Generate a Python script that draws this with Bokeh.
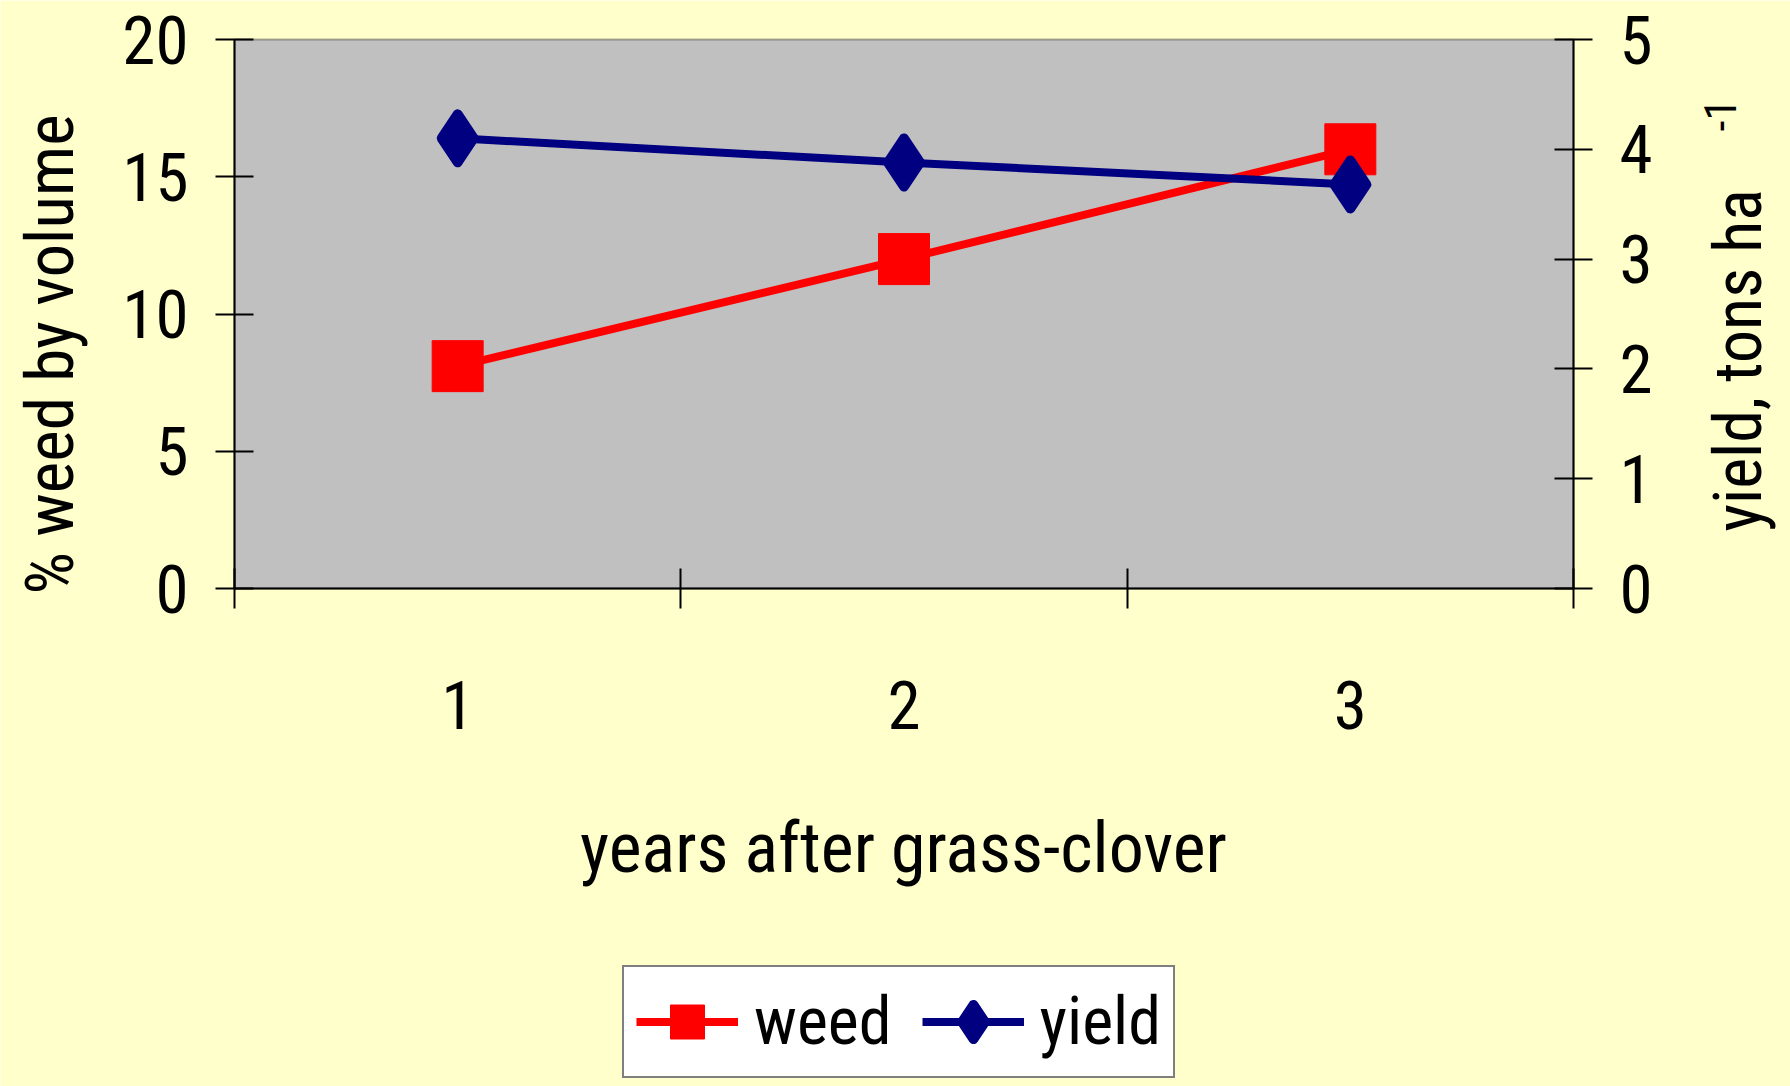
import math
from bokeh.plotting import figure
from bokeh.models import (Range1d, LinearAxis, FixedTicker, Legend, LegendItem,
                          Label, BoxAnnotation)
from bokeh.embed import file_html
from bokeh.resources import INLINE

# ---- data ----
years = [1, 2, 3]
year_labels = {1: "1", 2: "2", 3: "3"}
weed = [8.1, 12.0, 16.0]          # % weed by volume (left axis)
yield_t = [4.1, 3.88, 3.68]       # yield, tons/ha (right axis)
left_ticks = [0, 5, 10, 15, 20]
right_ticks = [0, 1, 2, 3, 4, 5]
cat_bounds = [0.5, 1.5, 2.5, 3.5]

# ---- layout (pixels) ----
W, H = 1790, 1086
PL, PR, PT, PB = 234, 1573, 39, 588          # plot-area edges on the page
FONT = "Roboto Condensed, Liberation Sans"
BG = "#FFFFCC"

x_lo, x_hi = cat_bounds[0], cat_bounds[-1]
y_lo, y_hi = left_ticks[0], left_ticks[-1]
y2_lo, y2_hi = right_ticks[0], right_ticks[-1]
kx = (PR - PL) / (x_hi - x_lo)
ky = (PB - PT) / (y_hi - y_lo)
ky2 = (PB - PT) / (y2_hi - y2_lo)
x_start = x_lo - PL / kx
y_start = y_lo - (H - PB) / ky
y2_start = y2_lo - (H - PB) / ky2


def px2x(px):
    return x_start + px / kx


def px2y(py):
    return y_start + (H - py) / ky


p = figure(width=W, height=H, output_backend="svg", toolbar_location=None,
           x_range=Range1d(x_start, x_hi + (W - PR) / kx),
           y_range=Range1d(y_start, y_hi + PT / ky),
           frame_width=W, frame_height=H, min_border=0,
           x_axis_location=None, y_axis_location=None)
p.background_fill_color = BG
p.border_fill_color = BG
p.outline_line_color = None
p.grid.visible = False
p.extra_y_ranges = {"y2": Range1d(y2_start, y2_hi + PT / ky2)}

# grey plot area with black border
p.add_layout(BoxAnnotation(left=x_lo, right=x_hi, bottom=y_lo, top=y_hi,
                           fill_color="#C0C0C0", fill_alpha=1,
                           line_color="black", line_width=2, level="underlay"))


def style(ax):
    ax.major_label_text_font = FONT
    ax.major_label_text_font_size = "67px"
    ax.major_label_text_color = "black"
    ax.axis_line_width = 2
    ax.major_tick_line_width = 2


# x axis: numbers at categories, tick marks at category boundaries
xa = LinearAxis(fixed_location=y_lo, bounds=(x_lo, x_hi),
                ticker=FixedTicker(ticks=years, minor_ticks=cat_bounds),
                major_label_overrides=year_labels)
style(xa)
xa.major_tick_line_color = None
xa.major_tick_in = 0
xa.major_tick_out = 0
xa.minor_tick_in = 20
xa.minor_tick_out = 20
xa.minor_tick_line_color = "black"
xa.minor_tick_line_width = 2
xa.major_label_standoff = 72
p.add_layout(xa, "below")

# left axis
ya = LinearAxis(fixed_location=x_lo, bounds=(y_lo, y_hi), ticker=FixedTicker(ticks=left_ticks))
style(ya)
ya.major_tick_in = 19
ya.major_tick_out = 19
ya.minor_tick_line_color = None
ya.major_label_standoff = 27
p.add_layout(ya, "left")

# right axis
ra = LinearAxis(y_range_name="y2", fixed_location=x_hi, bounds=(y2_lo, y2_hi),
                ticker=FixedTicker(ticks=right_ticks))
style(ra)
ra.major_tick_in = 19
ra.major_tick_out = 19
ra.minor_tick_line_color = None
ra.major_label_standoff = 27
p.add_layout(ra, "right")

# axis titles
p.add_layout(Label(x=px2x(903), y=px2y(847), text="years after grass-clover",
                   text_font=FONT, text_font_size="70px", text_color="black",
                   text_align="center", text_baseline="alphabetic"))
p.add_layout(Label(x=px2x(49), y=px2y(594), text="% weed by volume", angle=math.pi / 2,
                   text_font=FONT, text_font_size="67px", text_color="black",
                   text_align="left", text_baseline="alphabetic"))
p.add_layout(Label(x=px2x(1738), y=px2y(531), text="yield, tons ha", angle=math.pi / 2,
                   text_font=FONT, text_font_size="66px", text_color="black",
                   text_align="left", text_baseline="alphabetic"))
p.add_layout(Label(x=px2x(1719), y=px2y(131), text="-1", angle=math.pi / 2,
                   text_font=FONT, text_font_size="44px", text_color="black",
                   text_align="left", text_baseline="alphabetic"))

# series
wl = p.line(years, weed, line_color="#FF0000", line_width=8)
ws = p.scatter(years, weed, marker="square", size=51, fill_color="#FF0000", line_color="#FF0000")
yl = p.line(years, yield_t, y_range_name="y2", line_color="#000080", line_width=8)
ys = p.scatter(years, yield_t, y_range_name="y2", marker="diamond",
               size=48, fill_color="#000080", line_color="#000080", line_width=10,
               line_join="round")

legend = Legend(items=[LegendItem(label="weed", renderers=[wl, ws]),
                       LegendItem(label="yield", renderers=[yl, ys])],
                orientation="horizontal", location=(622, 8), margin=0,
                padding=12, spacing=30, label_standoff=16,
                glyph_width=102, glyph_height=85,
                label_text_font=FONT, label_text_font_size="66px",
                label_text_color="black",
                border_line_color="black", border_line_width=2,
                background_fill_color="white", background_fill_alpha=1)
p.add_layout(legend, "center")

open("out.html", "w").write(file_html(p, INLINE))
